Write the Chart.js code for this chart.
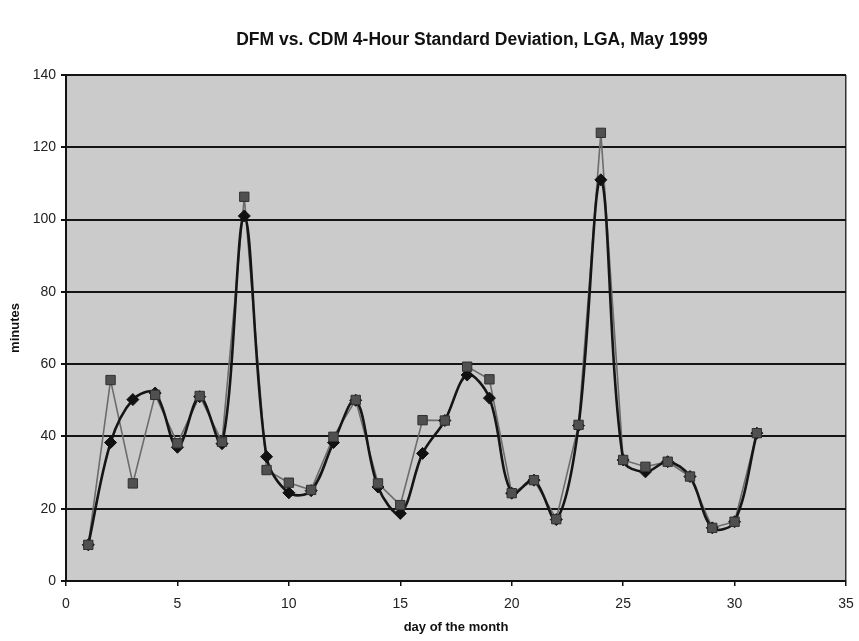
<!DOCTYPE html>
<html>
<head>
<meta charset="utf-8">
<script src="https://cdn.jsdelivr.net/npm/chart.js@4/dist/chart.umd.min.js"></script>
<style>
  html, body { margin: 0; padding: 0; background: #fff; }
  #wrap { width: 859px; height: 641px; }
</style>
</head>
<body>
<div id="wrap"><canvas id="c" width="859" height="641"></canvas></div>
<script>
// Day of the month (May 1999)
const days = [1, 2, 3, 4, 5, 6, 7, 8, 9, 10, 11, 12, 13, 14, 15, 16, 17, 18, 19, 20, 21, 22, 23, 24, 25, 26, 27, 28, 29, 30, 31];
// DFM 4-hour standard deviation, minutes
const dfm = [10, 38.3, 50.2, 52, 37, 51, 38, 101, 34.4, 24.4, 25, 38.3, 50, 26, 18.7, 35.3, 44.4, 57, 50.6, 24.3, 27.9, 17, 43, 111, 33.5, 30.2, 33, 28.9, 14.7, 16.4, 40.9];
// CDM 4-hour standard deviation, minutes
const cdm = [10, 55.6, 27, 51.5, 38.1, 51.2, 38.5, 106.3, 30.7, 27.2, 25.2, 39.9, 50.1, 27, 21, 44.5, 44.4, 59.3, 55.8, 24.3, 27.9, 17.1, 43.2, 124, 33.5, 31.6, 33, 28.9, 14.7, 16.4, 40.9];

const xTicks = [0, 5, 10, 15, 20, 25, 30, 35];
const yTicks = [0, 20, 40, 60, 80, 100, 120, 140];

const chartTitle = 'DFM vs. CDM 4-Hour Standard Deviation, LGA, May 1999';

const pts = (ys) => days.map((d, i) => ({ x: d, y: ys[i] }));

const FONT = '"Liberation Sans", Arial, sans-serif';

// Grey plot-area fill behind the grid, and the heading above the plot
const frame = {
  id: 'frame',
  beforeDraw(chart) {
    const { ctx, chartArea: a } = chart;
    ctx.save();
    ctx.fillStyle = '#cbcbcb';
    ctx.fillRect(a.left, a.top, a.right - a.left, a.bottom - a.top);
    ctx.restore();
  },
  afterDraw(chart) {
    const { ctx, chartArea: a } = chart;
    ctx.save();
    ctx.fillStyle = '#111';
    ctx.font = 'bold 17.5px ' + FONT;
    ctx.textAlign = 'center';
    ctx.textBaseline = 'middle';
    ctx.fillText(chartTitle, (a.left + a.right) / 2 + 16, 40);
    ctx.restore();
  }
};

new Chart(document.getElementById('c'), {
  type: 'line',
  data: {
    datasets: [
      {
        label: 'CDM',
        data: pts(cdm),
        borderColor: '#6c6c6c',
        borderWidth: 1.6,
        tension: 0,
        pointRadius: 0,
        order: 3
      },
      {
        label: 'DFM',
        data: pts(dfm),
        borderColor: '#151515',
        borderWidth: 2.6,
        tension: 0.35,
        pointStyle: 'rectRot',
        pointRadius: 6,
        pointBackgroundColor: '#111',
        pointBorderColor: '#111',
        pointBorderWidth: 1,
        order: 2
      },
      {
        label: 'CDM points',
        data: pts(cdm),
        showLine: false,
        pointStyle: 'rect',
        pointRadius: 6.6,
        pointBackgroundColor: '#505050',
        pointBorderColor: '#303030',
        pointBorderWidth: 1,
        order: 1
      }
    ]
  },
  options: {
    responsive: false,
    animation: false,
    layout: { padding: { left: 0, right: 13, top: 75, bottom: 0 } },
    plugins: {
      legend: { display: false },
      tooltip: { enabled: false },
      title: { display: false }
    },
    scales: {
      x: {
        type: 'linear',
        min: 0,
        max: 35,
        afterBuildTicks(s) { s.ticks = xTicks.map(v => ({ value: v })); },
        afterFit(s) { s.height = 60; s.paddingRight = 0; s.paddingLeft = 0; },
        ticks: {
          color: '#222',
          font: { family: FONT, size: 14 },
          padding: 10,
          maxRotation: 0
        },
        grid: {
          color: (c) => (c.tick && c.tick.value === 35 ? '#333' : 'rgba(0,0,0,0)'),
          lineWidth: 1.5,
          tickColor: '#111',
          tickLength: 5
        },
        border: { display: true, color: '#111', width: 2 },
        title: {
          display: true,
          text: 'day of the month',
          color: '#111',
          font: { family: FONT, size: 13, weight: 'bold' },
          padding: { top: 4, bottom: 6 }
        }
      },
      y: {
        min: 0,
        max: 140,
        afterBuildTicks(s) { s.ticks = yTicks.map(v => ({ value: v })); },
        afterFit(s) { s.width = 66; },
        ticks: {
          color: '#222',
          font: { family: FONT, size: 14 },
          padding: 5
        },
        grid: {
          color: '#141414',
          lineWidth: 2,
          tickColor: '#111',
          tickLength: 5
        },
        border: { display: true, color: '#111', width: 2 },
        title: {
          display: true,
          text: 'minutes',
          color: '#111',
          font: { family: FONT, size: 13, weight: 'bold' },
          padding: { top: 8, bottom: 4 }
        }
      }
    }
  },
  plugins: [frame]
});
</script>
</body>
</html>
